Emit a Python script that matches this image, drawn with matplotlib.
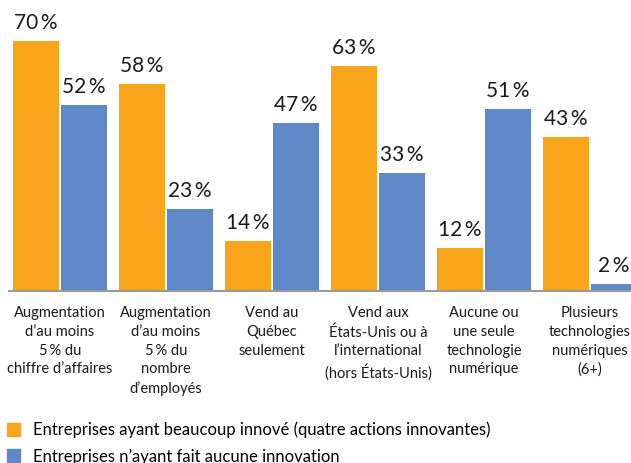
import matplotlib
matplotlib.use('Agg')
import matplotlib.pyplot as plt
import matplotlib.patches as mpatches
import numpy as np

categories = [
    "Augmentation\nd\u2019au moins\n5\u2009% du\nchiffre d\u2019affaires",
    "Augmentation\nd\u2019au moins\n5\u2009% du\nnombre\nd\u2019employés",
    "Vend au\nQuébec\nseulement",
    "Vend aux\nÉtats-Unis ou à\nl\u2019international\n(hors États-Unis)",
    "Aucune ou\nune seule\ntechnologie\nnumérique",
    "Plusieurs\ntechnologies\nnumériques\n(6+)",
]
innov_beaucoup = [70, 58, 14, 63, 12, 43]
innov_aucune = [52, 23, 47, 33, 51, 2]
series_labels = [
    "Entreprises ayant beaucoup innové (quatre actions innovantes)",
    "Entreprises n\u2019ayant fait aucune innovation",
]

orange = '#F8A51C'
blue = '#5E88C7'

fontName = 'Lato'
plt.rcParams.update({'font.family': [fontName, 'DejaVu Sans']})

W, H = 631, 463
fig = plt.figure(figsize=(W / 100, H / 100), dpi=100)

# axes placed in pixel terms: left 9px, right 631px, baseline 291px, 70% at 41px
ax = fig.add_axes([9 / W, (H - 291) / H, (631 - 9) / W, 250 / H])

pitch = 106.0
x = np.arange(len(categories))
barWidth = 46 / pitch
off = 24 / pitch

b1 = ax.bar(x - off, innov_beaucoup, width=barWidth, color=orange)
b2 = ax.bar(x + off, innov_aucune, width=barWidth, color=blue)

for bars, vals in ((b1, innov_beaucoup), (b2, innov_aucune)):
    for bar, v in zip(bars, vals):
        ax.annotate('%d\u2009%%' % v, (bar.get_x() + bar.get_width() / 2, v),
                    xytext=(0, 6), textcoords='offset points',
                    ha='center', va='bottom', fontsize=15, color='#1a1a1a',
                    annotation_clip=False)

ax.set_xlim((9 - 60) / pitch, (631 - 60) / pitch)
ax.set_ylim(0, 70)

for s in ['top', 'right', 'left']:
    ax.spines[s].set_visible(False)
ax.spines['bottom'].set_color('#9a9a9a')
ax.spines['bottom'].set_linewidth(1.5)
ax.set_yticks([])
ax.set_xticks(x)
ax.set_xticklabels(categories, fontsize=10.5, linespacing=1.42, color='#1a1a1a')
ax.tick_params(axis='x', length=0, pad=11)

handles = [mpatches.Patch(color=orange), mpatches.Patch(color=blue)]
fig.legend(handles, series_labels, loc='upper left', bbox_to_anchor=(0.0, (H - 415) / H),
           frameon=False, fontsize=12, handlelength=0.8, handleheight=0.8,
           handletextpad=0.8, labelspacing=0.6, borderaxespad=0, borderpad=0.4)

fig.savefig('out.png', dpi=100)
